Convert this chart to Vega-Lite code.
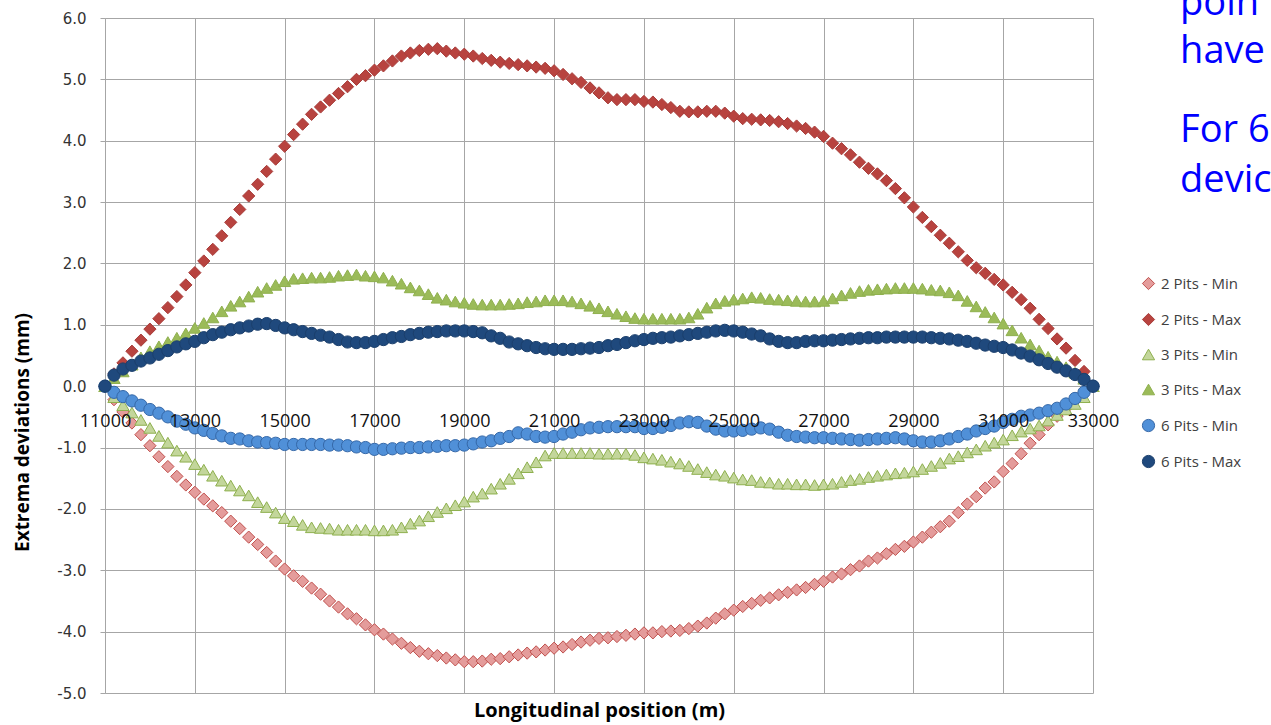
{
"$schema": "https://vega.github.io/schema/vega-lite/v6.json",
"width": 988, "height": 675,
"autosize": {"type": "none"},
"padding": {"left": 105, "top": 18, "right": 178, "bottom": 32},
"background": "white",
"config": {"view": {"stroke": null}},
"resolve": {"axis": {"x": "independent"}},
"layer": [
{
"data": {"values": [
{"x":11000,"s":"2 Pits - Min","y":0},{"x":11200,"s":"2 Pits - Min","y":-0.22},{"x":11400,"s":"2 Pits - Min","y":-0.42},{"x":11600,"s":"2 Pits - Min","y":-0.6},{"x":11800,"s":"2 Pits - Min","y":-0.79},{"x":12000,"s":"2 Pits - Min","y":-0.97},{"x":12200,"s":"2 Pits - Min","y":-1.15},{"x":12400,"s":"2 Pits - Min","y":-1.31},{"x":12600,"s":"2 Pits - Min","y":-1.47},{"x":12800,"s":"2 Pits - Min","y":-1.61},
{"x":13000,"s":"2 Pits - Min","y":-1.73},{"x":13200,"s":"2 Pits - Min","y":-1.84},{"x":13400,"s":"2 Pits - Min","y":-1.95},{"x":13600,"s":"2 Pits - Min","y":-2.06},{"x":13800,"s":"2 Pits - Min","y":-2.2},{"x":14000,"s":"2 Pits - Min","y":-2.32},{"x":14200,"s":"2 Pits - Min","y":-2.46},{"x":14400,"s":"2 Pits - Min","y":-2.58},{"x":14600,"s":"2 Pits - Min","y":-2.71},{"x":14800,"s":"2 Pits - Min","y":-2.85},
{"x":15000,"s":"2 Pits - Min","y":-2.98},{"x":15200,"s":"2 Pits - Min","y":-3.09},{"x":15400,"s":"2 Pits - Min","y":-3.18},{"x":15600,"s":"2 Pits - Min","y":-3.29},{"x":15800,"s":"2 Pits - Min","y":-3.39},{"x":16000,"s":"2 Pits - Min","y":-3.5},{"x":16200,"s":"2 Pits - Min","y":-3.6},{"x":16400,"s":"2 Pits - Min","y":-3.71},{"x":16600,"s":"2 Pits - Min","y":-3.79},{"x":16800,"s":"2 Pits - Min","y":-3.89},
{"x":17000,"s":"2 Pits - Min","y":-3.97},{"x":17200,"s":"2 Pits - Min","y":-4.04},{"x":17400,"s":"2 Pits - Min","y":-4.12},{"x":17600,"s":"2 Pits - Min","y":-4.19},{"x":17800,"s":"2 Pits - Min","y":-4.26},{"x":18000,"s":"2 Pits - Min","y":-4.32},{"x":18200,"s":"2 Pits - Min","y":-4.36},{"x":18400,"s":"2 Pits - Min","y":-4.39},{"x":18600,"s":"2 Pits - Min","y":-4.43},{"x":18800,"s":"2 Pits - Min","y":-4.46},
{"x":19000,"s":"2 Pits - Min","y":-4.49},{"x":19200,"s":"2 Pits - Min","y":-4.49},{"x":19400,"s":"2 Pits - Min","y":-4.48},{"x":19600,"s":"2 Pits - Min","y":-4.45},{"x":19800,"s":"2 Pits - Min","y":-4.44},{"x":20000,"s":"2 Pits - Min","y":-4.41},{"x":20200,"s":"2 Pits - Min","y":-4.38},{"x":20400,"s":"2 Pits - Min","y":-4.35},{"x":20600,"s":"2 Pits - Min","y":-4.33},{"x":20800,"s":"2 Pits - Min","y":-4.3},
{"x":21000,"s":"2 Pits - Min","y":-4.27},{"x":21200,"s":"2 Pits - Min","y":-4.25},{"x":21400,"s":"2 Pits - Min","y":-4.21},{"x":21600,"s":"2 Pits - Min","y":-4.17},{"x":21800,"s":"2 Pits - Min","y":-4.14},{"x":22000,"s":"2 Pits - Min","y":-4.11},{"x":22200,"s":"2 Pits - Min","y":-4.1},{"x":22400,"s":"2 Pits - Min","y":-4.08},{"x":22600,"s":"2 Pits - Min","y":-4.06},{"x":22800,"s":"2 Pits - Min","y":-4.04},
{"x":23000,"s":"2 Pits - Min","y":-4.02},{"x":23200,"s":"2 Pits - Min","y":-4.02},{"x":23400,"s":"2 Pits - Min","y":-4.0},{"x":23600,"s":"2 Pits - Min","y":-3.99},{"x":23800,"s":"2 Pits - Min","y":-3.98},{"x":24000,"s":"2 Pits - Min","y":-3.95},{"x":24200,"s":"2 Pits - Min","y":-3.91},{"x":24400,"s":"2 Pits - Min","y":-3.86},{"x":24600,"s":"2 Pits - Min","y":-3.78},{"x":24800,"s":"2 Pits - Min","y":-3.71},
{"x":25000,"s":"2 Pits - Min","y":-3.65},{"x":25200,"s":"2 Pits - Min","y":-3.59},{"x":25400,"s":"2 Pits - Min","y":-3.54},{"x":25600,"s":"2 Pits - Min","y":-3.49},{"x":25800,"s":"2 Pits - Min","y":-3.45},{"x":26000,"s":"2 Pits - Min","y":-3.4},{"x":26200,"s":"2 Pits - Min","y":-3.36},{"x":26400,"s":"2 Pits - Min","y":-3.32},{"x":26600,"s":"2 Pits - Min","y":-3.28},{"x":26800,"s":"2 Pits - Min","y":-3.23},
{"x":27000,"s":"2 Pits - Min","y":-3.18},{"x":27200,"s":"2 Pits - Min","y":-3.11},{"x":27400,"s":"2 Pits - Min","y":-3.06},{"x":27600,"s":"2 Pits - Min","y":-2.99},{"x":27800,"s":"2 Pits - Min","y":-2.93},{"x":28000,"s":"2 Pits - Min","y":-2.85},{"x":28200,"s":"2 Pits - Min","y":-2.8},{"x":28400,"s":"2 Pits - Min","y":-2.73},{"x":28600,"s":"2 Pits - Min","y":-2.66},{"x":28800,"s":"2 Pits - Min","y":-2.61},
{"x":29000,"s":"2 Pits - Min","y":-2.54},{"x":29200,"s":"2 Pits - Min","y":-2.46},{"x":29400,"s":"2 Pits - Min","y":-2.38},{"x":29600,"s":"2 Pits - Min","y":-2.29},{"x":29800,"s":"2 Pits - Min","y":-2.2},{"x":30000,"s":"2 Pits - Min","y":-2.06},{"x":30200,"s":"2 Pits - Min","y":-1.92},{"x":30400,"s":"2 Pits - Min","y":-1.8},{"x":30600,"s":"2 Pits - Min","y":-1.66},{"x":30800,"s":"2 Pits - Min","y":-1.56},
{"x":31000,"s":"2 Pits - Min","y":-1.39},{"x":31200,"s":"2 Pits - Min","y":-1.26},{"x":31400,"s":"2 Pits - Min","y":-1.1},{"x":31600,"s":"2 Pits - Min","y":-0.93},{"x":31800,"s":"2 Pits - Min","y":-0.79},{"x":32000,"s":"2 Pits - Min","y":-0.63},{"x":32200,"s":"2 Pits - Min","y":-0.49},{"x":32400,"s":"2 Pits - Min","y":-0.36},{"x":32600,"s":"2 Pits - Min","y":-0.24},{"x":32800,"s":"2 Pits - Min","y":-0.11},
{"x":33000,"s":"2 Pits - Min","y":0},
{"x":11000,"s":"2 Pits - Max","y":0},{"x":11200,"s":"2 Pits - Max","y":0.2},{"x":11400,"s":"2 Pits - Max","y":0.38},{"x":11600,"s":"2 Pits - Max","y":0.57},{"x":11800,"s":"2 Pits - Max","y":0.75},{"x":12000,"s":"2 Pits - Max","y":0.93},{"x":12200,"s":"2 Pits - Max","y":1.1},{"x":12400,"s":"2 Pits - Max","y":1.28},{"x":12600,"s":"2 Pits - Max","y":1.46},{"x":12800,"s":"2 Pits - Max","y":1.65},
{"x":13000,"s":"2 Pits - Max","y":1.85},{"x":13200,"s":"2 Pits - Max","y":2.04},{"x":13400,"s":"2 Pits - Max","y":2.23},{"x":13600,"s":"2 Pits - Max","y":2.45},{"x":13800,"s":"2 Pits - Max","y":2.67},{"x":14000,"s":"2 Pits - Max","y":2.88},{"x":14200,"s":"2 Pits - Max","y":3.1},{"x":14400,"s":"2 Pits - Max","y":3.29},{"x":14600,"s":"2 Pits - Max","y":3.5},{"x":14800,"s":"2 Pits - Max","y":3.7},
{"x":15000,"s":"2 Pits - Max","y":3.91},{"x":15200,"s":"2 Pits - Max","y":4.1},{"x":15400,"s":"2 Pits - Max","y":4.27},{"x":15600,"s":"2 Pits - Max","y":4.43},{"x":15800,"s":"2 Pits - Max","y":4.55},{"x":16000,"s":"2 Pits - Max","y":4.66},{"x":16200,"s":"2 Pits - Max","y":4.77},{"x":16400,"s":"2 Pits - Max","y":4.88},{"x":16600,"s":"2 Pits - Max","y":5.0},{"x":16800,"s":"2 Pits - Max","y":5.06},
{"x":17000,"s":"2 Pits - Max","y":5.15},{"x":17200,"s":"2 Pits - Max","y":5.22},{"x":17400,"s":"2 Pits - Max","y":5.3},{"x":17600,"s":"2 Pits - Max","y":5.38},{"x":17800,"s":"2 Pits - Max","y":5.43},{"x":18000,"s":"2 Pits - Max","y":5.47},{"x":18200,"s":"2 Pits - Max","y":5.49},{"x":18400,"s":"2 Pits - Max","y":5.5},{"x":18600,"s":"2 Pits - Max","y":5.46},{"x":18800,"s":"2 Pits - Max","y":5.43},
{"x":19000,"s":"2 Pits - Max","y":5.41},{"x":19200,"s":"2 Pits - Max","y":5.38},{"x":19400,"s":"2 Pits - Max","y":5.34},{"x":19600,"s":"2 Pits - Max","y":5.31},{"x":19800,"s":"2 Pits - Max","y":5.28},{"x":20000,"s":"2 Pits - Max","y":5.26},{"x":20200,"s":"2 Pits - Max","y":5.24},{"x":20400,"s":"2 Pits - Max","y":5.22},{"x":20600,"s":"2 Pits - Max","y":5.2},{"x":20800,"s":"2 Pits - Max","y":5.18},
{"x":21000,"s":"2 Pits - Max","y":5.14},{"x":21200,"s":"2 Pits - Max","y":5.08},{"x":21400,"s":"2 Pits - Max","y":5.01},{"x":21600,"s":"2 Pits - Max","y":4.95},{"x":21800,"s":"2 Pits - Max","y":4.86},{"x":22000,"s":"2 Pits - Max","y":4.78},{"x":22200,"s":"2 Pits - Max","y":4.7},{"x":22400,"s":"2 Pits - Max","y":4.67},{"x":22600,"s":"2 Pits - Max","y":4.67},{"x":22800,"s":"2 Pits - Max","y":4.67},
{"x":23000,"s":"2 Pits - Max","y":4.64},{"x":23200,"s":"2 Pits - Max","y":4.63},{"x":23400,"s":"2 Pits - Max","y":4.59},{"x":23600,"s":"2 Pits - Max","y":4.54},{"x":23800,"s":"2 Pits - Max","y":4.48},{"x":24000,"s":"2 Pits - Max","y":4.47},{"x":24200,"s":"2 Pits - Max","y":4.47},{"x":24400,"s":"2 Pits - Max","y":4.48},{"x":24600,"s":"2 Pits - Max","y":4.48},{"x":24800,"s":"2 Pits - Max","y":4.45},
{"x":25000,"s":"2 Pits - Max","y":4.4},{"x":25200,"s":"2 Pits - Max","y":4.36},{"x":25400,"s":"2 Pits - Max","y":4.35},{"x":25600,"s":"2 Pits - Max","y":4.34},{"x":25800,"s":"2 Pits - Max","y":4.33},{"x":26000,"s":"2 Pits - Max","y":4.31},{"x":26200,"s":"2 Pits - Max","y":4.28},{"x":26400,"s":"2 Pits - Max","y":4.24},{"x":26600,"s":"2 Pits - Max","y":4.2},{"x":26800,"s":"2 Pits - Max","y":4.14},
{"x":27000,"s":"2 Pits - Max","y":4.07},{"x":27200,"s":"2 Pits - Max","y":3.96},{"x":27400,"s":"2 Pits - Max","y":3.87},{"x":27600,"s":"2 Pits - Max","y":3.77},{"x":27800,"s":"2 Pits - Max","y":3.65},{"x":28000,"s":"2 Pits - Max","y":3.55},{"x":28200,"s":"2 Pits - Max","y":3.46},{"x":28400,"s":"2 Pits - Max","y":3.35},{"x":28600,"s":"2 Pits - Max","y":3.22},{"x":28800,"s":"2 Pits - Max","y":3.07},
{"x":29000,"s":"2 Pits - Max","y":2.92},{"x":29200,"s":"2 Pits - Max","y":2.75},{"x":29400,"s":"2 Pits - Max","y":2.6},{"x":29600,"s":"2 Pits - Max","y":2.46},{"x":29800,"s":"2 Pits - Max","y":2.33},{"x":30000,"s":"2 Pits - Max","y":2.19},{"x":30200,"s":"2 Pits - Max","y":2.05},{"x":30400,"s":"2 Pits - Max","y":1.93},{"x":30600,"s":"2 Pits - Max","y":1.84},{"x":30800,"s":"2 Pits - Max","y":1.74},
{"x":31000,"s":"2 Pits - Max","y":1.65},{"x":31200,"s":"2 Pits - Max","y":1.53},{"x":31400,"s":"2 Pits - Max","y":1.41},{"x":31600,"s":"2 Pits - Max","y":1.27},{"x":31800,"s":"2 Pits - Max","y":1.09},{"x":32000,"s":"2 Pits - Max","y":0.94},{"x":32200,"s":"2 Pits - Max","y":0.77},{"x":32400,"s":"2 Pits - Max","y":0.62},{"x":32600,"s":"2 Pits - Max","y":0.42},{"x":32800,"s":"2 Pits - Max","y":0.24},
{"x":33000,"s":"2 Pits - Max","y":0},
{"x":11000,"s":"3 Pits - Min","y":0},{"x":11200,"s":"3 Pits - Min","y":-0.18},{"x":11400,"s":"3 Pits - Min","y":-0.31},{"x":11600,"s":"3 Pits - Min","y":-0.43},{"x":11800,"s":"3 Pits - Min","y":-0.55},{"x":12000,"s":"3 Pits - Min","y":-0.68},{"x":12200,"s":"3 Pits - Min","y":-0.81},{"x":12400,"s":"3 Pits - Min","y":-0.92},{"x":12600,"s":"3 Pits - Min","y":-1.05},{"x":12800,"s":"3 Pits - Min","y":-1.15},
{"x":13000,"s":"3 Pits - Min","y":-1.27},{"x":13200,"s":"3 Pits - Min","y":-1.36},{"x":13400,"s":"3 Pits - Min","y":-1.46},{"x":13600,"s":"3 Pits - Min","y":-1.54},{"x":13800,"s":"3 Pits - Min","y":-1.62},{"x":14000,"s":"3 Pits - Min","y":-1.7},{"x":14200,"s":"3 Pits - Min","y":-1.78},{"x":14400,"s":"3 Pits - Min","y":-1.89},{"x":14600,"s":"3 Pits - Min","y":-1.97},{"x":14800,"s":"3 Pits - Min","y":-2.06},
{"x":15000,"s":"3 Pits - Min","y":-2.15},{"x":15200,"s":"3 Pits - Min","y":-2.2},{"x":15400,"s":"3 Pits - Min","y":-2.26},{"x":15600,"s":"3 Pits - Min","y":-2.3},{"x":15800,"s":"3 Pits - Min","y":-2.31},{"x":16000,"s":"3 Pits - Min","y":-2.32},{"x":16200,"s":"3 Pits - Min","y":-2.34},{"x":16400,"s":"3 Pits - Min","y":-2.34},{"x":16600,"s":"3 Pits - Min","y":-2.34},{"x":16800,"s":"3 Pits - Min","y":-2.34},
{"x":17000,"s":"3 Pits - Min","y":-2.35},{"x":17200,"s":"3 Pits - Min","y":-2.35},{"x":17400,"s":"3 Pits - Min","y":-2.34},{"x":17600,"s":"3 Pits - Min","y":-2.3},{"x":17800,"s":"3 Pits - Min","y":-2.24},{"x":18000,"s":"3 Pits - Min","y":-2.19},{"x":18200,"s":"3 Pits - Min","y":-2.12},{"x":18400,"s":"3 Pits - Min","y":-2.05},{"x":18600,"s":"3 Pits - Min","y":-1.99},{"x":18800,"s":"3 Pits - Min","y":-1.94},
{"x":19000,"s":"3 Pits - Min","y":-1.88},{"x":19200,"s":"3 Pits - Min","y":-1.8},{"x":19400,"s":"3 Pits - Min","y":-1.75},{"x":19600,"s":"3 Pits - Min","y":-1.67},{"x":19800,"s":"3 Pits - Min","y":-1.59},{"x":20000,"s":"3 Pits - Min","y":-1.51},{"x":20200,"s":"3 Pits - Min","y":-1.42},{"x":20400,"s":"3 Pits - Min","y":-1.32},{"x":20600,"s":"3 Pits - Min","y":-1.24},{"x":20800,"s":"3 Pits - Min","y":-1.13},
{"x":21000,"s":"3 Pits - Min","y":-1.09},{"x":21200,"s":"3 Pits - Min","y":-1.09},{"x":21400,"s":"3 Pits - Min","y":-1.09},{"x":21600,"s":"3 Pits - Min","y":-1.09},{"x":21800,"s":"3 Pits - Min","y":-1.09},{"x":22000,"s":"3 Pits - Min","y":-1.1},{"x":22200,"s":"3 Pits - Min","y":-1.1},{"x":22400,"s":"3 Pits - Min","y":-1.1},{"x":22600,"s":"3 Pits - Min","y":-1.1},{"x":22800,"s":"3 Pits - Min","y":-1.12},
{"x":23000,"s":"3 Pits - Min","y":-1.16},{"x":23200,"s":"3 Pits - Min","y":-1.18},{"x":23400,"s":"3 Pits - Min","y":-1.2},{"x":23600,"s":"3 Pits - Min","y":-1.23},{"x":23800,"s":"3 Pits - Min","y":-1.26},{"x":24000,"s":"3 Pits - Min","y":-1.3},{"x":24200,"s":"3 Pits - Min","y":-1.35},{"x":24400,"s":"3 Pits - Min","y":-1.4},{"x":24600,"s":"3 Pits - Min","y":-1.44},{"x":24800,"s":"3 Pits - Min","y":-1.46},
{"x":25000,"s":"3 Pits - Min","y":-1.49},{"x":25200,"s":"3 Pits - Min","y":-1.52},{"x":25400,"s":"3 Pits - Min","y":-1.53},{"x":25600,"s":"3 Pits - Min","y":-1.56},{"x":25800,"s":"3 Pits - Min","y":-1.57},{"x":26000,"s":"3 Pits - Min","y":-1.59},{"x":26200,"s":"3 Pits - Min","y":-1.59},{"x":26400,"s":"3 Pits - Min","y":-1.6},{"x":26600,"s":"3 Pits - Min","y":-1.6},{"x":26800,"s":"3 Pits - Min","y":-1.61},
{"x":27000,"s":"3 Pits - Min","y":-1.6},{"x":27200,"s":"3 Pits - Min","y":-1.59},{"x":27400,"s":"3 Pits - Min","y":-1.56},{"x":27600,"s":"3 Pits - Min","y":-1.53},{"x":27800,"s":"3 Pits - Min","y":-1.51},{"x":28000,"s":"3 Pits - Min","y":-1.48},{"x":28200,"s":"3 Pits - Min","y":-1.46},{"x":28400,"s":"3 Pits - Min","y":-1.44},{"x":28600,"s":"3 Pits - Min","y":-1.42},{"x":28800,"s":"3 Pits - Min","y":-1.41},
{"x":29000,"s":"3 Pits - Min","y":-1.39},{"x":29200,"s":"3 Pits - Min","y":-1.35},{"x":29400,"s":"3 Pits - Min","y":-1.3},{"x":29600,"s":"3 Pits - Min","y":-1.25},{"x":29800,"s":"3 Pits - Min","y":-1.18},{"x":30000,"s":"3 Pits - Min","y":-1.14},{"x":30200,"s":"3 Pits - Min","y":-1.08},{"x":30400,"s":"3 Pits - Min","y":-1.03},{"x":30600,"s":"3 Pits - Min","y":-0.97},{"x":30800,"s":"3 Pits - Min","y":-0.92},
{"x":31000,"s":"3 Pits - Min","y":-0.87},{"x":31200,"s":"3 Pits - Min","y":-0.8},{"x":31400,"s":"3 Pits - Min","y":-0.74},{"x":31600,"s":"3 Pits - Min","y":-0.69},{"x":31800,"s":"3 Pits - Min","y":-0.64},{"x":32000,"s":"3 Pits - Min","y":-0.56},{"x":32200,"s":"3 Pits - Min","y":-0.47},{"x":32400,"s":"3 Pits - Min","y":-0.38},{"x":32600,"s":"3 Pits - Min","y":-0.29},{"x":32800,"s":"3 Pits - Min","y":-0.18},
{"x":33000,"s":"3 Pits - Min","y":0},
{"x":11000,"s":"3 Pits - Max","y":0},{"x":11200,"s":"3 Pits - Max","y":0.13},{"x":11400,"s":"3 Pits - Max","y":0.24},{"x":11600,"s":"3 Pits - Max","y":0.35},{"x":11800,"s":"3 Pits - Max","y":0.47},{"x":12000,"s":"3 Pits - Max","y":0.57},{"x":12200,"s":"3 Pits - Max","y":0.65},{"x":12400,"s":"3 Pits - Max","y":0.72},{"x":12600,"s":"3 Pits - Max","y":0.79},{"x":12800,"s":"3 Pits - Max","y":0.86},
{"x":13000,"s":"3 Pits - Max","y":0.95},{"x":13200,"s":"3 Pits - Max","y":1.03},{"x":13400,"s":"3 Pits - Max","y":1.12},{"x":13600,"s":"3 Pits - Max","y":1.22},{"x":13800,"s":"3 Pits - Max","y":1.31},{"x":14000,"s":"3 Pits - Max","y":1.38},{"x":14200,"s":"3 Pits - Max","y":1.46},{"x":14400,"s":"3 Pits - Max","y":1.54},{"x":14600,"s":"3 Pits - Max","y":1.6},{"x":14800,"s":"3 Pits - Max","y":1.65},
{"x":15000,"s":"3 Pits - Max","y":1.71},{"x":15200,"s":"3 Pits - Max","y":1.75},{"x":15400,"s":"3 Pits - Max","y":1.76},{"x":15600,"s":"3 Pits - Max","y":1.77},{"x":15800,"s":"3 Pits - Max","y":1.77},{"x":16000,"s":"3 Pits - Max","y":1.78},{"x":16200,"s":"3 Pits - Max","y":1.8},{"x":16400,"s":"3 Pits - Max","y":1.81},{"x":16600,"s":"3 Pits - Max","y":1.82},{"x":16800,"s":"3 Pits - Max","y":1.8},
{"x":17000,"s":"3 Pits - Max","y":1.79},{"x":17200,"s":"3 Pits - Max","y":1.77},{"x":17400,"s":"3 Pits - Max","y":1.72},{"x":17600,"s":"3 Pits - Max","y":1.67},{"x":17800,"s":"3 Pits - Max","y":1.61},{"x":18000,"s":"3 Pits - Max","y":1.56},{"x":18200,"s":"3 Pits - Max","y":1.5},{"x":18400,"s":"3 Pits - Max","y":1.44},{"x":18600,"s":"3 Pits - Max","y":1.41},{"x":18800,"s":"3 Pits - Max","y":1.38},
{"x":19000,"s":"3 Pits - Max","y":1.36},{"x":19200,"s":"3 Pits - Max","y":1.34},{"x":19400,"s":"3 Pits - Max","y":1.33},{"x":19600,"s":"3 Pits - Max","y":1.33},{"x":19800,"s":"3 Pits - Max","y":1.33},{"x":20000,"s":"3 Pits - Max","y":1.34},{"x":20200,"s":"3 Pits - Max","y":1.35},{"x":20400,"s":"3 Pits - Max","y":1.37},{"x":20600,"s":"3 Pits - Max","y":1.38},{"x":20800,"s":"3 Pits - Max","y":1.4},
{"x":21000,"s":"3 Pits - Max","y":1.4},{"x":21200,"s":"3 Pits - Max","y":1.4},{"x":21400,"s":"3 Pits - Max","y":1.38},{"x":21600,"s":"3 Pits - Max","y":1.35},{"x":21800,"s":"3 Pits - Max","y":1.31},{"x":22000,"s":"3 Pits - Max","y":1.27},{"x":22200,"s":"3 Pits - Max","y":1.22},{"x":22400,"s":"3 Pits - Max","y":1.18},{"x":22600,"s":"3 Pits - Max","y":1.14},{"x":22800,"s":"3 Pits - Max","y":1.11},
{"x":23000,"s":"3 Pits - Max","y":1.1},{"x":23200,"s":"3 Pits - Max","y":1.1},{"x":23400,"s":"3 Pits - Max","y":1.1},{"x":23600,"s":"3 Pits - Max","y":1.1},{"x":23800,"s":"3 Pits - Max","y":1.1},{"x":24000,"s":"3 Pits - Max","y":1.12},{"x":24200,"s":"3 Pits - Max","y":1.18},{"x":24400,"s":"3 Pits - Max","y":1.28},{"x":24600,"s":"3 Pits - Max","y":1.35},{"x":24800,"s":"3 Pits - Max","y":1.39},
{"x":25000,"s":"3 Pits - Max","y":1.41},{"x":25200,"s":"3 Pits - Max","y":1.43},{"x":25400,"s":"3 Pits - Max","y":1.45},{"x":25600,"s":"3 Pits - Max","y":1.44},{"x":25800,"s":"3 Pits - Max","y":1.42},{"x":26000,"s":"3 Pits - Max","y":1.41},{"x":26200,"s":"3 Pits - Max","y":1.4},{"x":26400,"s":"3 Pits - Max","y":1.39},{"x":26600,"s":"3 Pits - Max","y":1.38},{"x":26800,"s":"3 Pits - Max","y":1.38},
{"x":27000,"s":"3 Pits - Max","y":1.39},{"x":27200,"s":"3 Pits - Max","y":1.43},{"x":27400,"s":"3 Pits - Max","y":1.48},{"x":27600,"s":"3 Pits - Max","y":1.52},{"x":27800,"s":"3 Pits - Max","y":1.55},{"x":28000,"s":"3 Pits - Max","y":1.57},{"x":28200,"s":"3 Pits - Max","y":1.58},{"x":28400,"s":"3 Pits - Max","y":1.59},{"x":28600,"s":"3 Pits - Max","y":1.6},{"x":28800,"s":"3 Pits - Max","y":1.6},
{"x":29000,"s":"3 Pits - Max","y":1.6},{"x":29200,"s":"3 Pits - Max","y":1.59},{"x":29400,"s":"3 Pits - Max","y":1.57},{"x":29600,"s":"3 Pits - Max","y":1.56},{"x":29800,"s":"3 Pits - Max","y":1.53},{"x":30000,"s":"3 Pits - Max","y":1.48},{"x":30200,"s":"3 Pits - Max","y":1.39},{"x":30400,"s":"3 Pits - Max","y":1.3},{"x":30600,"s":"3 Pits - Max","y":1.21},{"x":30800,"s":"3 Pits - Max","y":1.12},
{"x":31000,"s":"3 Pits - Max","y":1.02},{"x":31200,"s":"3 Pits - Max","y":0.91},{"x":31400,"s":"3 Pits - Max","y":0.79},{"x":31600,"s":"3 Pits - Max","y":0.68},{"x":31800,"s":"3 Pits - Max","y":0.58},{"x":32000,"s":"3 Pits - Max","y":0.48},{"x":32200,"s":"3 Pits - Max","y":0.4},{"x":32400,"s":"3 Pits - Max","y":0.31},{"x":32600,"s":"3 Pits - Max","y":0.22},{"x":32800,"s":"3 Pits - Max","y":0.12},
{"x":33000,"s":"3 Pits - Max","y":0},
{"x":11000,"s":"6 Pits - Min","y":0},{"x":11200,"s":"6 Pits - Min","y":-0.1},{"x":11400,"s":"6 Pits - Min","y":-0.17},{"x":11600,"s":"6 Pits - Min","y":-0.24},{"x":11800,"s":"6 Pits - Min","y":-0.31},{"x":12000,"s":"6 Pits - Min","y":-0.38},{"x":12200,"s":"6 Pits - Min","y":-0.44},{"x":12400,"s":"6 Pits - Min","y":-0.5},{"x":12600,"s":"6 Pits - Min","y":-0.57},{"x":12800,"s":"6 Pits - Min","y":-0.62},
{"x":13000,"s":"6 Pits - Min","y":-0.68},{"x":13200,"s":"6 Pits - Min","y":-0.72},{"x":13400,"s":"6 Pits - Min","y":-0.77},{"x":13600,"s":"6 Pits - Min","y":-0.81},{"x":13800,"s":"6 Pits - Min","y":-0.85},{"x":14000,"s":"6 Pits - Min","y":-0.86},{"x":14200,"s":"6 Pits - Min","y":-0.89},{"x":14400,"s":"6 Pits - Min","y":-0.91},{"x":14600,"s":"6 Pits - Min","y":-0.92},{"x":14800,"s":"6 Pits - Min","y":-0.93},
{"x":15000,"s":"6 Pits - Min","y":-0.95},{"x":15200,"s":"6 Pits - Min","y":-0.95},{"x":15400,"s":"6 Pits - Min","y":-0.95},{"x":15600,"s":"6 Pits - Min","y":-0.95},{"x":15800,"s":"6 Pits - Min","y":-0.95},{"x":16000,"s":"6 Pits - Min","y":-0.96},{"x":16200,"s":"6 Pits - Min","y":-0.96},{"x":16400,"s":"6 Pits - Min","y":-0.97},{"x":16600,"s":"6 Pits - Min","y":-0.99},{"x":16800,"s":"6 Pits - Min","y":-1.0},
{"x":17000,"s":"6 Pits - Min","y":-1.03},{"x":17200,"s":"6 Pits - Min","y":-1.03},{"x":17400,"s":"6 Pits - Min","y":-1.02},{"x":17600,"s":"6 Pits - Min","y":-1.01},{"x":17800,"s":"6 Pits - Min","y":-1.0},{"x":18000,"s":"6 Pits - Min","y":-1.0},{"x":18200,"s":"6 Pits - Min","y":-0.99},{"x":18400,"s":"6 Pits - Min","y":-0.98},{"x":18600,"s":"6 Pits - Min","y":-0.97},{"x":18800,"s":"6 Pits - Min","y":-0.97},
{"x":19000,"s":"6 Pits - Min","y":-0.96},{"x":19200,"s":"6 Pits - Min","y":-0.94},{"x":19400,"s":"6 Pits - Min","y":-0.91},{"x":19600,"s":"6 Pits - Min","y":-0.89},{"x":19800,"s":"6 Pits - Min","y":-0.85},{"x":20000,"s":"6 Pits - Min","y":-0.82},{"x":20200,"s":"6 Pits - Min","y":-0.76},{"x":20400,"s":"6 Pits - Min","y":-0.78},{"x":20600,"s":"6 Pits - Min","y":-0.82},{"x":20800,"s":"6 Pits - Min","y":-0.83},
{"x":21000,"s":"6 Pits - Min","y":-0.82},{"x":21200,"s":"6 Pits - Min","y":-0.78},{"x":21400,"s":"6 Pits - Min","y":-0.75},{"x":21600,"s":"6 Pits - Min","y":-0.71},{"x":21800,"s":"6 Pits - Min","y":-0.68},{"x":22000,"s":"6 Pits - Min","y":-0.67},{"x":22200,"s":"6 Pits - Min","y":-0.66},{"x":22400,"s":"6 Pits - Min","y":-0.66},{"x":22600,"s":"6 Pits - Min","y":-0.66},{"x":22800,"s":"6 Pits - Min","y":-0.66},
{"x":23000,"s":"6 Pits - Min","y":-0.69},{"x":23200,"s":"6 Pits - Min","y":-0.69},{"x":23400,"s":"6 Pits - Min","y":-0.67},{"x":23600,"s":"6 Pits - Min","y":-0.64},{"x":23800,"s":"6 Pits - Min","y":-0.6},{"x":24000,"s":"6 Pits - Min","y":-0.58},{"x":24200,"s":"6 Pits - Min","y":-0.59},{"x":24400,"s":"6 Pits - Min","y":-0.65},{"x":24600,"s":"6 Pits - Min","y":-0.7},{"x":24800,"s":"6 Pits - Min","y":-0.73},
{"x":25000,"s":"6 Pits - Min","y":-0.73},{"x":25200,"s":"6 Pits - Min","y":-0.72},{"x":25400,"s":"6 Pits - Min","y":-0.7},{"x":25600,"s":"6 Pits - Min","y":-0.68},{"x":25800,"s":"6 Pits - Min","y":-0.7},{"x":26000,"s":"6 Pits - Min","y":-0.75},{"x":26200,"s":"6 Pits - Min","y":-0.8},{"x":26400,"s":"6 Pits - Min","y":-0.82},{"x":26600,"s":"6 Pits - Min","y":-0.83},{"x":26800,"s":"6 Pits - Min","y":-0.84},
{"x":27000,"s":"6 Pits - Min","y":-0.84},{"x":27200,"s":"6 Pits - Min","y":-0.85},{"x":27400,"s":"6 Pits - Min","y":-0.86},{"x":27600,"s":"6 Pits - Min","y":-0.87},{"x":27800,"s":"6 Pits - Min","y":-0.88},{"x":28000,"s":"6 Pits - Min","y":-0.87},{"x":28200,"s":"6 Pits - Min","y":-0.86},{"x":28400,"s":"6 Pits - Min","y":-0.85},{"x":28600,"s":"6 Pits - Min","y":-0.84},{"x":28800,"s":"6 Pits - Min","y":-0.86},
{"x":29000,"s":"6 Pits - Min","y":-0.89},{"x":29200,"s":"6 Pits - Min","y":-0.91},{"x":29400,"s":"6 Pits - Min","y":-0.91},{"x":29600,"s":"6 Pits - Min","y":-0.89},{"x":29800,"s":"6 Pits - Min","y":-0.86},{"x":30000,"s":"6 Pits - Min","y":-0.82},{"x":30200,"s":"6 Pits - Min","y":-0.78},{"x":30400,"s":"6 Pits - Min","y":-0.73},{"x":30600,"s":"6 Pits - Min","y":-0.69},{"x":30800,"s":"6 Pits - Min","y":-0.65},
{"x":31000,"s":"6 Pits - Min","y":-0.59},{"x":31200,"s":"6 Pits - Min","y":-0.54},{"x":31400,"s":"6 Pits - Min","y":-0.49},{"x":31600,"s":"6 Pits - Min","y":-0.47},{"x":31800,"s":"6 Pits - Min","y":-0.44},{"x":32000,"s":"6 Pits - Min","y":-0.4},{"x":32200,"s":"6 Pits - Min","y":-0.36},{"x":32400,"s":"6 Pits - Min","y":-0.29},{"x":32600,"s":"6 Pits - Min","y":-0.2},{"x":32800,"s":"6 Pits - Min","y":-0.1},
{"x":33000,"s":"6 Pits - Min","y":0},
{"x":11000,"s":"6 Pits - Max","y":0},{"x":11200,"s":"6 Pits - Max","y":0.18},{"x":11400,"s":"6 Pits - Max","y":0.28},{"x":11600,"s":"6 Pits - Max","y":0.34},{"x":11800,"s":"6 Pits - Max","y":0.41},{"x":12000,"s":"6 Pits - Max","y":0.46},{"x":12200,"s":"6 Pits - Max","y":0.52},{"x":12400,"s":"6 Pits - Max","y":0.58},{"x":12600,"s":"6 Pits - Max","y":0.64},{"x":12800,"s":"6 Pits - Max","y":0.69},
{"x":13000,"s":"6 Pits - Max","y":0.73},{"x":13200,"s":"6 Pits - Max","y":0.79},{"x":13400,"s":"6 Pits - Max","y":0.84},{"x":13600,"s":"6 Pits - Max","y":0.88},{"x":13800,"s":"6 Pits - Max","y":0.92},{"x":14000,"s":"6 Pits - Max","y":0.95},{"x":14200,"s":"6 Pits - Max","y":0.98},{"x":14400,"s":"6 Pits - Max","y":1.01},{"x":14600,"s":"6 Pits - Max","y":1.02},{"x":14800,"s":"6 Pits - Max","y":0.99},
{"x":15000,"s":"6 Pits - Max","y":0.95},{"x":15200,"s":"6 Pits - Max","y":0.92},{"x":15400,"s":"6 Pits - Max","y":0.89},{"x":15600,"s":"6 Pits - Max","y":0.86},{"x":15800,"s":"6 Pits - Max","y":0.83},{"x":16000,"s":"6 Pits - Max","y":0.8},{"x":16200,"s":"6 Pits - Max","y":0.76},{"x":16400,"s":"6 Pits - Max","y":0.72},{"x":16600,"s":"6 Pits - Max","y":0.71},{"x":16800,"s":"6 Pits - Max","y":0.71},
{"x":17000,"s":"6 Pits - Max","y":0.73},{"x":17200,"s":"6 Pits - Max","y":0.76},{"x":17400,"s":"6 Pits - Max","y":0.79},{"x":17600,"s":"6 Pits - Max","y":0.81},{"x":17800,"s":"6 Pits - Max","y":0.84},{"x":18000,"s":"6 Pits - Max","y":0.86},{"x":18200,"s":"6 Pits - Max","y":0.88},{"x":18400,"s":"6 Pits - Max","y":0.89},{"x":18600,"s":"6 Pits - Max","y":0.9},{"x":18800,"s":"6 Pits - Max","y":0.9},
{"x":19000,"s":"6 Pits - Max","y":0.9},{"x":19200,"s":"6 Pits - Max","y":0.89},{"x":19400,"s":"6 Pits - Max","y":0.87},{"x":19600,"s":"6 Pits - Max","y":0.82},{"x":19800,"s":"6 Pits - Max","y":0.78},{"x":20000,"s":"6 Pits - Max","y":0.72},{"x":20200,"s":"6 Pits - Max","y":0.69},{"x":20400,"s":"6 Pits - Max","y":0.66},{"x":20600,"s":"6 Pits - Max","y":0.63},{"x":20800,"s":"6 Pits - Max","y":0.61},
{"x":21000,"s":"6 Pits - Max","y":0.6},{"x":21200,"s":"6 Pits - Max","y":0.6},{"x":21400,"s":"6 Pits - Max","y":0.6},{"x":21600,"s":"6 Pits - Max","y":0.61},{"x":21800,"s":"6 Pits - Max","y":0.62},{"x":22000,"s":"6 Pits - Max","y":0.63},{"x":22200,"s":"6 Pits - Max","y":0.66},{"x":22400,"s":"6 Pits - Max","y":0.68},{"x":22600,"s":"6 Pits - Max","y":0.71},{"x":22800,"s":"6 Pits - Max","y":0.74},
{"x":23000,"s":"6 Pits - Max","y":0.76},{"x":23200,"s":"6 Pits - Max","y":0.78},{"x":23400,"s":"6 Pits - Max","y":0.79},{"x":23600,"s":"6 Pits - Max","y":0.8},{"x":23800,"s":"6 Pits - Max","y":0.82},{"x":24000,"s":"6 Pits - Max","y":0.84},{"x":24200,"s":"6 Pits - Max","y":0.86},{"x":24400,"s":"6 Pits - Max","y":0.88},{"x":24600,"s":"6 Pits - Max","y":0.9},{"x":24800,"s":"6 Pits - Max","y":0.91},
{"x":25000,"s":"6 Pits - Max","y":0.9},{"x":25200,"s":"6 Pits - Max","y":0.88},{"x":25400,"s":"6 Pits - Max","y":0.85},{"x":25600,"s":"6 Pits - Max","y":0.82},{"x":25800,"s":"6 Pits - Max","y":0.77},{"x":26000,"s":"6 Pits - Max","y":0.73},{"x":26200,"s":"6 Pits - Max","y":0.71},{"x":26400,"s":"6 Pits - Max","y":0.71},{"x":26600,"s":"6 Pits - Max","y":0.73},{"x":26800,"s":"6 Pits - Max","y":0.74},
{"x":27000,"s":"6 Pits - Max","y":0.74},{"x":27200,"s":"6 Pits - Max","y":0.75},{"x":27400,"s":"6 Pits - Max","y":0.76},{"x":27600,"s":"6 Pits - Max","y":0.77},{"x":27800,"s":"6 Pits - Max","y":0.78},{"x":28000,"s":"6 Pits - Max","y":0.79},{"x":28200,"s":"6 Pits - Max","y":0.79},{"x":28400,"s":"6 Pits - Max","y":0.8},{"x":28600,"s":"6 Pits - Max","y":0.8},{"x":28800,"s":"6 Pits - Max","y":0.8},
{"x":29000,"s":"6 Pits - Max","y":0.8},{"x":29200,"s":"6 Pits - Max","y":0.8},{"x":29400,"s":"6 Pits - Max","y":0.79},{"x":29600,"s":"6 Pits - Max","y":0.78},{"x":29800,"s":"6 Pits - Max","y":0.77},{"x":30000,"s":"6 Pits - Max","y":0.75},{"x":30200,"s":"6 Pits - Max","y":0.73},{"x":30400,"s":"6 Pits - Max","y":0.7},{"x":30600,"s":"6 Pits - Max","y":0.67},{"x":30800,"s":"6 Pits - Max","y":0.65},
{"x":31000,"s":"6 Pits - Max","y":0.63},{"x":31200,"s":"6 Pits - Max","y":0.59},{"x":31400,"s":"6 Pits - Max","y":0.54},{"x":31600,"s":"6 Pits - Max","y":0.49},{"x":31800,"s":"6 Pits - Max","y":0.43},{"x":32000,"s":"6 Pits - Max","y":0.37},{"x":32200,"s":"6 Pits - Max","y":0.31},{"x":32400,"s":"6 Pits - Max","y":0.25},{"x":32600,"s":"6 Pits - Max","y":0.19},{"x":32800,"s":"6 Pits - Max","y":0.11},
{"x":33000,"s":"6 Pits - Max","y":0}
]},
"mark": {"type": "point", "filled": true, "opacity": 1, "strokeWidth": 1},
"encoding": {
"x": {"field": "x", "type": "quantitative", "scale": {"domain": [11000, 33000], "nice": false, "zero": false},
  "axis": {"orient": "top", "values": [11000,13000,15000,17000,19000,21000,23000,25000,27000,29000,31000,33000], "grid": true, "gridColor": "#A6A6A6", "gridWidth": 1, "labels": false, "ticks": false, "domain": false, "title": null, "zindex": 0}},
"y": {"field": "y", "type": "quantitative", "scale": {"domain": [-5, 6], "nice": false, "zero": false},
  "axis": {"values": [-5,-4,-3,-2,-1,0,1,2,3,4,5,6], "labelExpr": "replace(format(datum.value, '.1f'), '\u2212', '-')", "grid": true, "gridColor": "#A6A6A6", "gridWidth": 1, "domainColor": "#A6A6A6", "tickColor": "#A6A6A6", "tickSize": 5, "labelPadding": 14, "labelFont": "DejaVu Sans", "labelFontSize": 15, "labelColor": "#333333", "title": "Extrema deviations (mm)", "titleFont": "Open Sans", "titleFontSize": 19, "titleFontWeight": "bold", "titleColor": "#000000", "titleX": -83, "titleY": 414, "titleAlign": "center", "titleBaseline": "middle", "titleAngle": 270, "zindex": 0}},
"fill": {"field": "s", "type": "nominal",
  "scale": {"domain": ["2 Pits - Min","2 Pits - Max","3 Pits - Min","3 Pits - Max","6 Pits - Min","6 Pits - Max"], "range": ["#E49C9B","#B8433F","#C3D69B","#9BBB59","#5090D8","#1F497D"]},
  "legend": {"orient": "none", "legendX": 1036, "legendY": 258, "title": null, "labelFont": "Open Sans", "labelFontSize": 15, "labelColor": "#404040", "rowPadding": 19, "padding": 0, "symbolStrokeWidth": 1, "labelOffset": 5}},
"stroke": {"field": "s", "type": "nominal",
  "scale": {"domain": ["2 Pits - Min","2 Pits - Max","3 Pits - Min","3 Pits - Max","6 Pits - Min","6 Pits - Max"], "range": ["#C0504D","#A83D3A","#8EB04E","#8FB04E","#3568A8","#1B3F6C"]}},
"shape": {"field": "s", "type": "nominal",
  "scale": {"domain": ["2 Pits - Min","2 Pits - Max","3 Pits - Min","3 Pits - Max","6 Pits - Min","6 Pits - Max"], "range": ["diamond","diamond","triangle-up","triangle-up","circle","circle"]}},
"size": {"field": "s", "type": "nominal",
  "scale": {"domain": ["2 Pits - Min","2 Pits - Max","3 Pits - Min","3 Pits - Max","6 Pits - Min","6 Pits - Max"], "range": [150,150,165,165,115,115]}}
}
},
{
"data": {"values": [
{"x": 34940, "y": 6.05, "t": "poin"},
{"x": 34940, "y": 5.27, "t": "have"},
{"x": 34940, "y": 3.98, "t": "For 6"},
{"x": 34940, "y": 3.16, "t": "devic"}
]},
"mark": {"type": "text", "align": "left", "baseline": "alphabetic", "font": "Open Sans", "fontSize": 38, "color": "#0000FF"},
"encoding": {
"x": {"field": "x", "type": "quantitative", "scale": {"domain": [11000, 33000], "nice": false, "zero": false},
  "axis": {"orient": "bottom", "offset": -306.8, "values": [11000,13000,15000,17000,19000,21000,23000,25000,27000,29000,31000,33000], "format": "d", "grid": false, "domain": false, "ticks": false, "labelPadding": 26, "labelFont": "Open Sans", "labelFontSize": 18, "labelColor": "#111111", "labelOverlap": false, "labelFlush": false, "title": "Longitudinal position (m)", "titleFont": "Open Sans", "titleFontSize": 20, "titleFontWeight": "bold", "titleColor": "#000000", "titleY": 330, "titleBaseline": "alphabetic", "zindex": 1}},
"y": {"field": "y", "type": "quantitative"},
"text": {"field": "t"}
}
}
]
}
